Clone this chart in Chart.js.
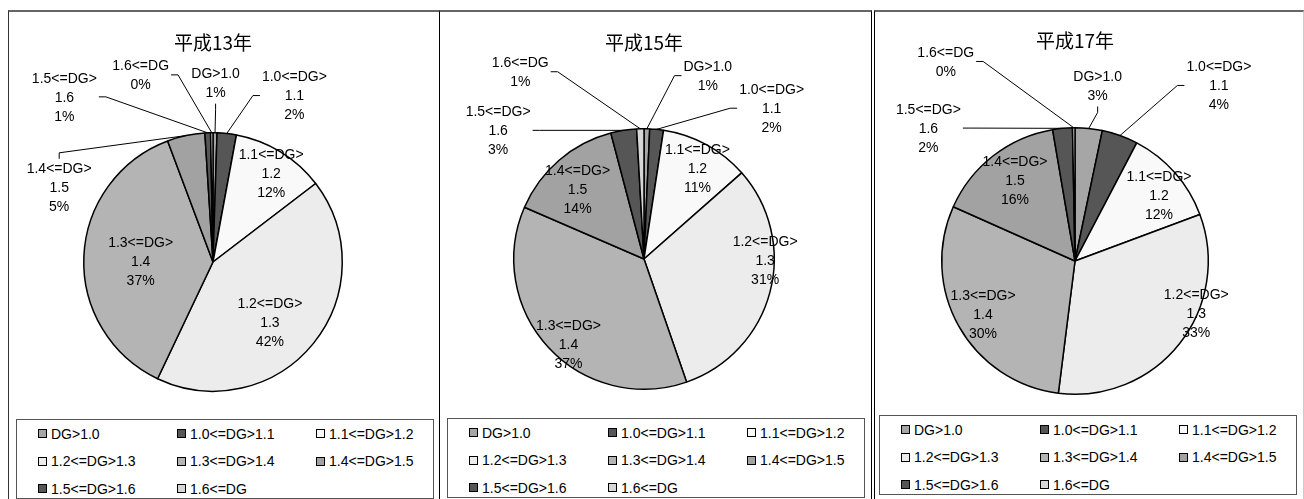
<!DOCTYPE html>
<html>
<head>
<meta charset="utf-8">
<script src="https://cdn.jsdelivr.net/npm/chart.js@4/dist/chart.umd.min.js"></script>
<style>
  body { margin: 0; background: #fff; width: 1304px; height: 499px; overflow: hidden; position: relative;
         font-family: "Liberation Sans", "Noto Sans CJK JP", sans-serif; }
  .panel { position: absolute; top: 10px; height: 500px; box-sizing: border-box;
           border-top: 2px solid #666; }
  canvas { position: absolute; }
  .legend { position: absolute; box-sizing: border-box; border: 1px solid #555; height: 80px;
            padding: 0 0 0 21px; display: grid; grid-template-columns: 139px 139px 139px;
            grid-auto-rows: 27.5px; font-size: 14px; color: #000; }
  .legend .item { display: flex; align-items: center; white-space: nowrap; }
  .legend .sw { width: 7px; height: 7px; border: 1px solid #000; margin-right: 4px; }
</style>
</head>
<body>
<div class="panel" style="left:8px;width:432px;border-left:1px solid #333;border-right:1px solid #000;"></div>
<div class="panel" style="left:440px;width:432px;border-right:1px solid #000;"></div>
<div class="panel" style="left:874px;width:430px;border-left:1px solid #000;border-right:1px solid #ccc;"></div>
<canvas id="pie-13"></canvas>
<canvas id="pie-15"></canvas>
<canvas id="pie-17"></canvas>
<div class="legend" id="legend-13"></div>
<div class="legend" id="legend-15"></div>
<div class="legend" id="legend-17"></div>
<script>
/* DG distribution pies — 平成13年 / 15年 / 17年 */

const CATEGORIES = ['DG>1.0', '1.0<=DG>1.1', '1.1<=DG>1.2', '1.2<=DG>1.3',
  '1.3<=DG>1.4', '1.4<=DG>1.5', '1.5<=DG>1.6', '1.6<=DG'];

const TITLES = ['平成13年', '平成15年', '平成17年'];

const VALUES_H13 = [0.5, 2.4, 11.7, 42.4, 37.2, 4.7, 0.7, 0.3];
const VALUES_H15 = [0.7, 1.7, 11.1, 31.2, 36.8, 14.4, 3.2, 0.9];
const VALUES_H17 = [3.3, 4.4, 11.7, 32.8, 29.8, 15.7, 2.4, 0.3];

const SLICE_COLORS = ['#a6a6a6', '#565656', '#f9f9f9', '#ececec',
  '#b4b4b4', '#a2a2a2', '#565656', '#d6d6d6'];

/* label centre relative to pie centre, in radii; anchor = side the leader leaves from */
const LABELS_H13 = [[0.02, -1.38, 'b'], [0.63, -1.28, 'l'], [0.45, -0.68], [0.44, 0.47],
  [-0.56, 0.0], [-1.19, -0.57, 't'], [-1.15, -1.27, 'r'], [-0.56, -1.44, 'r']];
const LABELS_H15 = [[0.49, -1.40, 'l'], [0.98, -1.15, 'l'], [0.41, -0.69], [0.93, 0.02],
  [-0.58, 0.66], [-0.51, -0.53], [-1.12, -0.98, 'r'], [-0.95, -1.43, 'r']];
const LABELS_H17 = [[0.17, -1.31, 'b'], [1.08, -1.31, 'l'], [0.63, -0.49], [0.91, 0.40],
  [-0.69, 0.41], [-0.45, -0.60], [-1.10, -0.99, 'r'], [-0.97, -1.49, 'r']];

const PANELS = [
  { id: '13', left: 9, width: 430, cx: 213, cy: 262, r: 130, titleY: 43, legend: [16, 419] },
  { id: '15', left: 440, width: 431, cx: 644, cy: 259, r: 131, titleY: 43, legend: [447, 418] },
  { id: '17', left: 875, width: 428, cx: 1075, cy: 261, r: 134, titleY: 41, legend: [879, 415] }
];

const CANVAS_TOP = 11;
const CANVAS_H = 400;
const LABEL_FONT = '"Liberation Sans", "Noto Sans CJK JP", sans-serif';
const TITLE_FONT = '"Noto Sans CJK JP", sans-serif';
const LABEL_SIZE = 14;
const LINE_H = 19;
const TITLE_SIZE = 19;

function labelLines(name, value, total) {
  var m = name.match(/^(.+<=DG>)(.+)$/);
  var lines = m ? [m[1], m[2]] : [name];
  lines.push(Math.round(value / total * 100) + '%');
  return lines;
}

var sliceLabels = {
  id: 'sliceLabels',
  afterDatasetsDraw: function(chart) {
    var spots = chart.options.plugins.sliceLabels.spots;
    var meta = chart.getDatasetMeta(0);
    var data = chart.data.datasets[0].data;
    var total = data.reduce(function(a, b) { return a + b; }, 0);
    var ctx = chart.ctx;
    ctx.save();
    ctx.font = LABEL_SIZE + 'px ' + LABEL_FONT;
    ctx.fillStyle = '#000';
    ctx.textAlign = 'center';
    ctx.textBaseline = 'middle';
    meta.data.forEach(function(arc, i) {
      var spot = spots[i];
      var r = arc.outerRadius;
      var bx = arc.x + spot[0] * r;
      var by = arc.y + spot[1] * r;
      var lines = labelLines(chart.data.labels[i], data[i], total);
      var hw = Math.max.apply(null, lines.map(function(t) { return ctx.measureText(t).width; })) / 2;
      var hh = lines.length * LINE_H / 2;
      lines.forEach(function(t, k) {
        ctx.fillText(t, bx, by - hh + LINE_H * (k + 0.5));
      });
      if (!spot[2]) return;
      var mid = (arc.startAngle + arc.endAngle) / 2;
      var px = arc.x + Math.cos(mid) * r;
      var py = arc.y + Math.sin(mid) * r;
      var a, e;
      if (spot[2] === 'l') { a = [bx - hw - 2, by - 1]; e = [a[0] - 7, a[1]]; }
      if (spot[2] === 'r') { a = [bx + hw + 2, by - 1]; e = [a[0] + 7, a[1]]; }
      if (spot[2] === 'b') { a = [bx, by + hh + 1]; e = [bx, a[1] + 6]; }
      if (spot[2] === 't') { a = [bx, by - hh - 1]; e = [bx, a[1] - 6]; }
      ctx.beginPath();
      ctx.strokeStyle = '#000';
      ctx.lineWidth = 1;
      ctx.moveTo(a[0], a[1]);
      ctx.lineTo(e[0], e[1]);
      ctx.lineTo(px, py);
      ctx.stroke();
    });
    ctx.restore();
  }
};

function renderLegend(el, left, top) {
  el.style.left = left + 'px';
  el.style.top = top + 'px';
  el.style.width = '418px';
  CATEGORIES.forEach(function(name, i) {
    var item = document.createElement('div');
    item.className = 'item';
    var sw = document.createElement('span');
    sw.className = 'sw';
    sw.style.background = SLICE_COLORS[i];
    var txt = document.createElement('span');
    txt.textContent = name;
    item.appendChild(sw);
    item.appendChild(txt);
    el.appendChild(item);
  });
}

function renderPie(panel, title, values, spots) {
  var canvas = document.getElementById('pie-' + panel.id);
  canvas.width = panel.width;
  canvas.height = CANVAS_H;
  canvas.style.left = panel.left + 'px';
  canvas.style.top = CANVAS_TOP + 'px';
  var areaTop = panel.cy - panel.r - CANVAS_TOP;
  var titleLine = TITLE_SIZE * 1.2;
  var titleTop = panel.titleY - CANVAS_TOP - titleLine / 2;
  new Chart(canvas.getContext('2d'), {
    type: 'pie',
    data: {
      labels: CATEGORIES,
      datasets: [{
        data: values,
        backgroundColor: SLICE_COLORS,
        borderColor: '#000',
        borderWidth: 1.5
      }]
    },
    options: {
      responsive: false,
      animation: false,
      layout: {
        padding: {
          left: panel.cx - panel.r - panel.left,
          right: panel.left + panel.width - (panel.cx + panel.r),
          top: 0,
          bottom: CANVAS_TOP + CANVAS_H - (panel.cy + panel.r)
        }
      },
      plugins: {
        legend: { display: false },
        tooltip: { enabled: false },
        title: {
          display: true, text: title, color: '#000',
          font: { family: TITLE_FONT, size: TITLE_SIZE, weight: 'normal', lineHeight: 1.2 },
          padding: { top: titleTop, bottom: areaTop - titleTop - titleLine }
        },
        sliceLabels: { spots: spots }
      }
    },
    plugins: [sliceLabels]
  });
  renderLegend(document.getElementById('legend-' + panel.id), panel.legend[0], panel.legend[1]);
}

renderPie(PANELS[0], TITLES[0], VALUES_H13, LABELS_H13);
renderPie(PANELS[1], TITLES[1], VALUES_H15, LABELS_H15);
renderPie(PANELS[2], TITLES[2], VALUES_H17, LABELS_H17);
</script>
</body>
</html>
